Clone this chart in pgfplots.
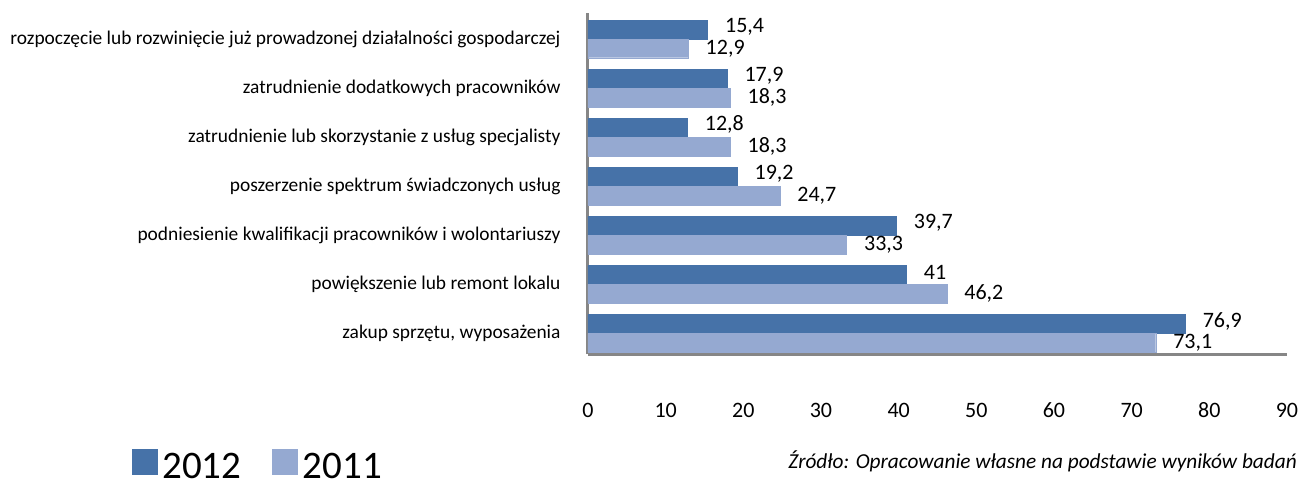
\documentclass[border=0pt]{standalone}
\usepackage{pgfplots}
\pgfplotsset{compat=1.18}
\usepackage{fontspec}
\setmainfont{Carlito}
\definecolor{darkb}{RGB}{70,114,168}
\definecolor{lightb}{RGB}{149,169,209}
\definecolor{axgray}{RGB}{134,134,134}
\begin{document}
\begin{tikzpicture}[x=1pt,y=1pt]
\path[use as bounding box] (-588,-133) rectangle (723,354);
\begin{axis}[
  at={(0,0)}, anchor=south west,
  scale only axis, width=699pt, height=341pt,
  xbar, bar width=18.7pt,
  xmin=0, xmax=90, ymin=-0.42, ymax=6.53,
  xtick={0,10,...,90},
  ytick={0,...,6},
  yticklabels={{zakup sprzętu, wyposażenia},
               {powiększenie lub remont lokalu},
               {podniesienie kwalifikacji pracowników i wolontariuszy},
               {poszerzenie spektrum świadczonych usług\ },
               {zatrudnienie lub skorzystanie z usług specjalisty},
               {zatrudnienie dodatkowych pracowników},
               {rozpoczęcie lub rozwinięcie już prowadzonej działalności gospodarczej}},
  axis x line*=bottom, axis y line*=left,
  axis line style={axgray, line width=3pt, -},
  major tick length=0pt,
  /pgf/number format/assume math mode=true,
  xticklabel style={font=\fontsize{22}{26}\selectfont, anchor=center, yshift=-56pt},
  yticklabel style={font=\fontsize{19.4}{22}\selectfont, xshift=-24pt},
  point meta=x,
  nodes near coords={\pgfmathprintnumber[use comma]{\pgfplotspointmeta}},
  nodes near coords style={font=\fontsize{22}{26}\selectfont, anchor=west, xshift=14pt},
  clip=false,
  legend columns=2,
  legend style={draw=none, fill=none, inner sep=0pt,
    nodes={inner sep=0pt, text depth=0pt},
    at={(-0.6528,-0.366)}, anchor=south west,
    font=\fontsize{39}{44}\selectfont,
    /tikz/every odd column/.append style={column sep=5pt},
    /tikz/every even column/.append style={column sep=31pt}},
  legend image code/.code={\fill[#1] (0pt,-8pt) rectangle (25pt,17pt);},
]
\addplot[fill=darkb, draw=darkb, bar shift=9.35pt,
  every node near coord/.append style={yshift=3pt}] coordinates {
  (76.9,0) (41,1) (39.7,2) (19.2,3) (12.8,4) (17.9,5) (15.4,6)};
\addlegendentry{2012}
\addplot[fill=lightb, draw=lightb, bar shift=-9.35pt] coordinates {
  (73.1,0) (46.2,1) (33.3,2) (24.7,3) (18.3,4) (18.3,5) (12.9,6)};
\addlegendentry{2011}
\end{axis}
\node[anchor=base east, font=\itshape\fontsize{21.3}{25}\selectfont, inner sep=0pt] at (709,-114)
  {Źródło: Opracowanie własne na podstawie wyników badań};
\end{tikzpicture}
\end{document}
